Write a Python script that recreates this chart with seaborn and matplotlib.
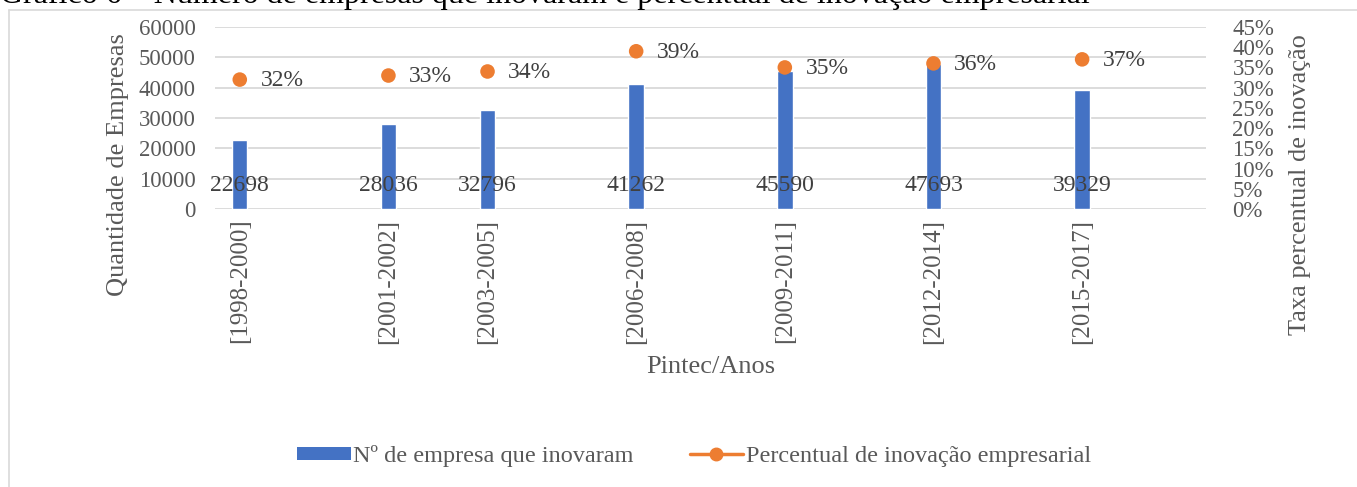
import matplotlib
matplotlib.use("Agg")
import matplotlib.pyplot as plt
from matplotlib.lines import Line2D
from matplotlib.patches import Patch
from matplotlib.ticker import PercentFormatter, MultipleLocator
import pandas as pd
import seaborn as sns

# Pintec survey periods (start year used as position on the time axis)
periodos = ["[1998-2000]", "[2001-2002]", "[2003-2005]", "[2006-2008]",
            "[2009-2011]", "[2012-2014]", "[2015-2017]"]
ano_inicio = [1998, 2001, 2003, 2006, 2009, 2012, 2015]
empresas_inovadoras = [22698, 28036, 32796, 41262, 45590, 47693, 39329]
taxa_inovacao = [0.32, 0.33, 0.34, 0.39, 0.35, 0.36, 0.37]

titulo = "Gráfico 6 – Número de empresas que inovaram e percentual de inovação empresarial"
nome_barras = "Nº de empresa que inovaram"
nome_pontos = "Percentual de inovação empresarial"

AZUL = "#4472C4"
LARANJA = "#ED7D31"
CINZA_TXT = "#595959"
CINZA_ROT = "#404040"
CINZA_GRADE = "#D9D9D9"

FS_TICK = 16.5
FS_XTICK = 18
FS_ROT = 17
FS_EIXO = 19
FS_LEG = 17.5

sns.set_theme(style="white")
plt.rcParams["font.family"] = ["Liberation Serif", "DejaVu Serif"]

df = pd.DataFrame({"ano": ano_inicio, "empresas": empresas_inovadoras,
                   "taxa": taxa_inovacao, "periodo": periodos})

W, H = 1357, 487
fig = plt.figure(figsize=(W / 100, H / 100), dpi=100)
ax = fig.add_axes([215 / W, 1 - 209 / H, (1206 - 215) / W, (209 - 27) / H])

sns.barplot(data=df, x="ano", y="empresas", native_scale=True, width=0.155,
            color=AZUL, saturation=1, ax=ax, zorder=3)

ax.set_xlim(1997.5, 2017.5)
ax.set_ylim(0, 60000)
ax.yaxis.set_major_locator(MultipleLocator(10000))
ax.set_xticks(ano_inicio)
ax.set_xticklabels(periodos, rotation=90, fontsize=FS_XTICK, color=CINZA_TXT)
ax.tick_params(axis="x", length=0, pad=7)
ax.tick_params(axis="y", length=0, pad=14, labelsize=FS_TICK, labelcolor=CINZA_TXT)
ax.grid(axis="y", color=CINZA_GRADE, linewidth=1.3, zorder=0)
ax.set_axisbelow(True)
for s in ax.spines.values():
    s.set_visible(False)

# value labels at the base of each bar
for x, v in zip(df["ano"], df["empresas"]):
    ax.annotate(f"{v}", (x, 0), xytext=(0, 17), textcoords="offset points",
                ha="center", va="center", fontsize=FS_ROT, color=CINZA_ROT, zorder=5)

ax.set_xlabel("Pintec/Anos", fontsize=FS_EIXO, color=CINZA_TXT)
ax.xaxis.set_label_coords(0.5, -0.81)
ax.xaxis.label.set_va("top")
ax.set_ylabel("Quantidade de Empresas", fontsize=FS_EIXO, color=CINZA_TXT)
ax.yaxis.set_label_coords(-0.098, 0.242)
ax.yaxis.label.set_va("center")

# secondary axis: innovation rate
ax2 = ax.twinx()
sns.scatterplot(data=df, x="ano", y="taxa", color=LARANJA, s=110,
                edgecolor="none", ax=ax2, zorder=4)
ax2.set_ylim(0, 0.45)
ax2.yaxis.set_major_locator(MultipleLocator(0.05))
ax2.yaxis.set_major_formatter(PercentFormatter(1.0, decimals=0))
ax2.tick_params(axis="y", length=0, pad=19, labelsize=FS_TICK, labelcolor=CINZA_TXT)
for lbl in ax2.get_yticklabels():
    lbl.set_horizontalalignment("left")
for s in ax2.spines.values():
    s.set_visible(False)
ax2.set_xlim(1997.5, 2017.5)
ax2.set_xlabel("")
ax2.set_ylabel("Taxa percentual de inovação", fontsize=FS_EIXO, color=CINZA_TXT)
ax2.yaxis.set_label_coords(1.095, 0.132)
ax2.yaxis.label.set_va("center")

for x, t in zip(df["ano"], df["taxa"]):
    ax2.annotate(f"{t:.0%}", (x, t), xytext=(15, -1), textcoords="offset points",
                 ha="left", va="center", fontsize=FS_ROT, color=CINZA_ROT)

# legend below the plot
handles = [
    Patch(facecolor=AZUL, edgecolor="none", label=nome_barras),
    Line2D([0], [0], color=LARANJA, lw=2.5, marker="o", markersize=9,
           label=nome_pontos),
]
fig.legend(handles=handles, loc="center", bbox_to_anchor=(694 / W, 1 - 456 / H),
           ncol=2, frameon=False, fontsize=FS_LEG, handlelength=2.2,
           handleheight=0.45, handletextpad=0.1, columnspacing=2.3,
           labelcolor=CINZA_TXT)

# chart frame
fig.add_artist(Line2D([9 / W, 9 / W], [0, 1 - 10 / H], transform=fig.transFigure,
                      color=CINZA_GRADE, lw=1.2))
fig.add_artist(Line2D([9 / W, 1], [1 - 10 / H, 1 - 10 / H], transform=fig.transFigure,
                      color=CINZA_GRADE, lw=1.2))

fig.text(0.0, 1 - 3 / H, titulo, ha="left", va="baseline", fontsize=23, color="black")

fig.savefig("out.png", dpi=100)
